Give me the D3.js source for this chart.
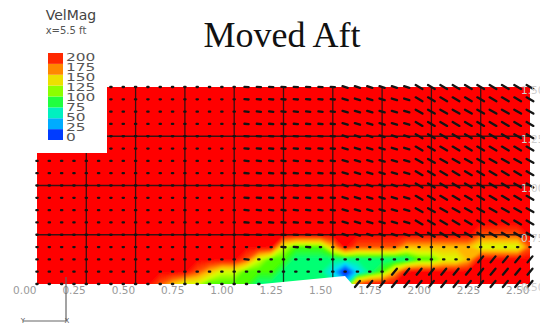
<!DOCTYPE html>
<html>
<head>
<meta charset="utf-8">
<script src="https://cdn.jsdelivr.net/npm/d3@7"></script>
<style>
  body { margin: 0; background: #fff; }
  svg { display: block; }
</style>
</head>
<body>
<div class="plot"></div>
<script>
const width = 540;
const height = 327;

// lattice spacing of the sampled plane (ft)
const step = 0.0625;

const xTicks = [0, 0.25, 0.5, 0.75, 1, 1.25, 1.5, 1.75, 2, 2.25, 2.5];
const xTickLabels = ["0.00", "0.25", "0.50", "0.75", "1.00", "1.25", "1.50", "1.75", "2.00", "2.25", "2.50"];
const yTicks = [0.5, 0.75, 1, 1.25, 1.5];
const yTickLabels = ["0.50", "0.75", "1.00", "1.25", "1.50"];

const legendValues = [0, 25, 50, 75, 100, 125, 150, 175, 200];
const legendColors = ["#0000ff", "#0078ff", "#00e0ff", "#00ff80", "#40ff00", "#d8ff00", "#ffc000", "#ff5000", "#ff0000"];

// velocity magnitude, in units of 25, rows from top (y=1.5) to bottom (y=0.5)
const speedRows = [
    "88888888888888888888888888888888888888888",
    "88888888888888888888888888888888888888888",
    "88888888888888888888888888888888888888888",
    "88888888888888888888888888888888888888888",
    "88888888888888888888888888888888888888888",
    "88888888888888888888888888888888888888888",
    "88888888888888888888888888888888888888888",
    "88888888888888888888888888888888888888888",
    "88888888888888888888888888888888888888888",
    "88888888888888888888888888888888888888888",
    "88888888888888888888888888888888888888888",
    "88888888888888888888888888888888888888888",
    "88888888888888888888888888888888888877778",
    "88888888888888888888544468777766666655557",
    "88888888888888888754433333333334455688888",
    "88888888888887655444333320234688888888888",
    "88888888887655444433333332788888888888888"
];

// in-plane vector type at each lattice point, same layout
const arrowRows = [
    "      ...........--------rrrrrrdddddddddd",
    "      ...........--------rrrrrrdddddddddd",
    "      ...........--------rrrrrrdddddddddd",
    "      ...........--------rrrrrrdddddddddd",
    "      ...........--------rrrrrrdddddddddd",
    "      ...........--------rrrrrrdddddddddd",
    ".................--------rrrrrrdddddddddd",
    ".................--------rrrrrrdddddddddd",
    ".................--------rrrrrrdddddddddd",
    ".................--------rrrrrrdddddddddd",
    ".................--------rrrrrrdddddddddd",
    ".................--------rrrrrrdddddddddd",
    ".................--------rrrrrrdddddddddd",
    "....................---..................",
    ".................-..................uuuuu",
    ".............................uuuuuuuuuuuu",
    "...................       uuuuuuuuuuuuuuu"
];

// in-plane components (u right, v up) for each vector type
const arrowTypes = {
    ".": [0.5, 0],
    "-": [1.6, -0.15],
    "r": [2.0, -0.6],
    "d": [2.6, -1.5],
    "u": [1.9, 2.3]
};

const domainOutline = [[0, 0.5], [2.5, 0.5], [2.5, 1.5], [0.355, 1.5], [0.355, 1.165], [0, 1.165]];
const bodyOutline = [[1.141, 0.5], [1.35, 0.52], [1.562, 0.541], [1.597, 0.5]];

const svg = d3
    .select(".plot")
    .append("svg")
    .attr("width", width)
    .attr("height", height);

const x = d3.scaleLinear().domain([0, 2.5]).range([37, 530]);
const y = d3.scaleLinear().domain([0.5, 1.5]).range([284, 87]);

const color = d3.scaleLinear().domain(legendValues).range(legendColors);

const defs = svg.append("defs");
defs.append("clipPath")
    .attr("id", "plane")
    .append("path")
    .attr("d", d3.line().x((d) => x(d[0])).y((d) => y(d[1]))(domainOutline) + "Z");
defs.append("filter")
    .attr("id", "soft")
    .attr("x", "-5%").attr("y", "-5%").attr("width", "110%").attr("height", "110%")
    .append("feGaussianBlur")
    .attr("stdDeviation", 0.8);

// contour field
const nx = speedRows[0].length;
const ny = speedRows.length;
const values = [];
speedRows.forEach((row) => {
    for (const c of row) values.push(+c * 25);
});

const contours = d3.contours()
    .size([nx, ny])
    .thresholds(d3.range(0, 201, 5))(values);

const toPixel = d3.geoTransform({
    point: function (gx, gy) {
        this.stream.point(x((gx - 0.5) * step), y(1.5 - (gy - 0.5) * step));
    }
});

const field = svg.append("g").attr("clip-path", "url(#plane)");
field.append("g")
    .attr("filter", "url(#soft)")
    .selectAll("path")
    .data(contours)
    .join("path")
    .attr("d", d3.geoPath(toPixel))
    .attr("fill", (d) => color(Math.min(200, d.value + 2.5)));

// grid
const grid = field.append("g")
    .attr("stroke", "#151515")
    .attr("stroke-width", 1.3)
    .attr("opacity", 0.85);
grid.selectAll("line.v")
    .data(xTicks.slice(1, -1))
    .join("line")
    .attr("class", "v")
    .attr("x1", (d) => x(d)).attr("x2", (d) => x(d))
    .attr("y1", y(1.5)).attr("y2", y(0.5));
grid.selectAll("line.h")
    .data(yTicks.slice(1, -1))
    .join("line")
    .attr("class", "h")
    .attr("x1", x(0)).attr("x2", x(2.5))
    .attr("y1", (d) => y(d)).attr("y2", (d) => y(d));

// body cut-out
svg.append("path")
    .attr("d", d3.line().x((d) => x(d[0])).y((d) => y(d[1]))(bodyOutline) + "Z")
    .attr("fill", "#fff");

// vectors
const arrows = [];
arrowRows.forEach((row, r) => {
    [...row].forEach((c, i) => {
        if (arrowTypes[c]) arrows.push({ px: i * step, py: 1.5 - r * step, uv: arrowTypes[c] });
    });
});
const k = 2.6;
svg.append("g")
    .attr("stroke", "#141414")
    .attr("stroke-width", 2.3)
    .attr("stroke-linecap", "round")
    .selectAll("line")
    .data(arrows)
    .join("line")
    .attr("x1", (d) => x(d.px) - (d.uv[0] * k) / 2)
    .attr("y1", (d) => y(d.py) + (d.uv[1] * k) / 2)
    .attr("x2", (d) => x(d.px) + (d.uv[0] * k) / 2)
    .attr("y2", (d) => y(d.py) - (d.uv[1] * k) / 2);

// axes
svg.append("g")
    .attr("transform", `translate(0, ${y(0.5)})`)
    .call(d3.axisBottom(x).tickValues(xTicks).tickFormat((d, i) => xTickLabels[i]).tickSize(0).tickPadding(3))
    .call((g) => g.select(".domain").remove())
    .selectAll("text")
    .attr("text-anchor", "end")
    .attr("dx", "-1")
    .attr("fill", "#9a9a9a")
    .style("font-family", "DejaVu Sans")
    .style("font-size", "10.5px");

svg.append("g")
    .attr("transform", `translate(521, 0)`)
    .call(d3.axisRight(y).tickValues(yTicks).tickFormat((d, i) => yTickLabels[i]).tickSize(0).tickPadding(0))
    .call((g) => g.select(".domain").remove())
    .selectAll("text")
    .attr("dy", "0.6em")
    .attr("fill", "#cfcfcf")
    .style("font-family", "DejaVu Sans")
    .style("font-size", "10.5px");

// legend
const yL = d3.scaleLinear().domain([0, 200]).range([140, 53]);
const legend = svg.append("g");
legend.selectAll("rect")
    .data(legendValues.slice(0, -1))
    .join("rect")
    .attr("x", 48)
    .attr("width", 15)
    .attr("y", (d) => yL(d + 25))
    .attr("height", (d) => yL(d) - yL(d + 25))
    .attr("fill", (d) => color(d + 12.5));

const yLabel = d3.scaleLinear().domain([0, 200]).range([141, 61]);
legend.selectAll("text.tick")
    .data(legendValues)
    .join("text")
    .attr("class", "tick")
    .attr("transform", (d) => `translate(66, ${yLabel(d)}) scale(1.4, 1)`)
    .attr("fill", "#555")
    .style("font-family", "DejaVu Sans")
    .style("font-size", "11px")
    .text((d) => d);

legend.append("text")
    .attr("x", 71).attr("y", 20)
    .attr("text-anchor", "middle")
    .attr("fill", "#444")
    .style("font-family", "DejaVu Sans")
    .style("font-size", "14px")
    .text("VelMag");
legend.append("text")
    .attr("x", 66).attr("y", 34)
    .attr("text-anchor", "middle")
    .attr("fill", "#555")
    .style("font-family", "DejaVu Sans")
    .style("font-size", "10px")
    .text("x=5.5 ft");

// title
svg.append("text")
    .attr("x", 282).attr("y", 47)
    .attr("text-anchor", "middle")
    .attr("fill", "#111")
    .style("font-family", "Liberation Serif")
    .style("font-size", "36px")
    .text("Moved Aft");

// axis triad
const triad = svg.append("g").attr("stroke", "#666").attr("stroke-width", 1.2);
triad.append("line").attr("x1", 66).attr("x2", 66).attr("y1", 277).attr("y2", 321);
triad.append("line").attr("x1", 23).attr("x2", 66).attr("y1", 321).attr("y2", 321);
svg.append("text").attr("x", 23).attr("y", 323).attr("text-anchor", "middle")
    .attr("fill", "#555").style("font-family", "DejaVu Sans").style("font-size", "7px").text("Y");
svg.append("text").attr("x", 67).attr("y", 323).attr("text-anchor", "middle")
    .attr("fill", "#555").style("font-family", "DejaVu Sans").style("font-size", "7px").text("X");
</script>
</body>
</html>
